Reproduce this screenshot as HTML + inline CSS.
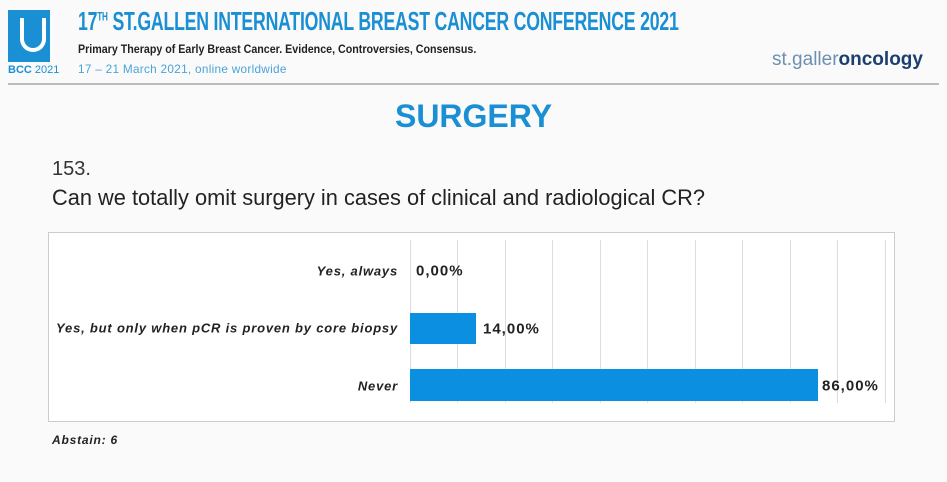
<!DOCTYPE html>
<html><head><meta charset="utf-8"><style>
body{margin:0;width:947px;height:482px;background:#fafafa;position:relative;overflow:hidden;font-family:"Liberation Sans",sans-serif}
.a{position:absolute;white-space:nowrap}
.lab{position:absolute;right:549px;font-weight:bold;font-style:italic;font-size:13px;letter-spacing:0.8px;color:#222;transform:translateY(-50%)}
.val{position:absolute;font-weight:bold;font-size:15px;letter-spacing:1px;color:#222;transform:translateY(-50%)}
.g{position:absolute;top:240px;height:163px;width:1px;background:#ddd}
</style></head><body>
<div class="a" style="left:8px;top:10px;width:42px;height:52px;background:#1a8fd3"></div>
<div class="a" style="left:20px;top:18px;width:18px;height:30px;border:4px solid #fff;border-top:none;border-radius:0 0 14px 14px"></div>
<div class="a" style="left:8px;top:64px;font-size:11px;color:#1a8fd3"><b>BCC</b> 2021</div>
<div class="a" style="left:78px;top:6px;font-size:26px;font-weight:bold;color:#1a8fd3;transform:scaleX(0.68);transform-origin:left;letter-spacing:-0.3px">17<sup style="font-size:12px">TH</sup> ST.GALLEN INTERNATIONAL BREAST CANCER CONFERENCE 2021</div>
<div class="a" style="left:78px;top:42px;font-size:12px;font-weight:bold;color:#222;transform:scaleX(0.89);transform-origin:left">Primary Therapy of Early Breast Cancer. Evidence, Controversies, Consensus.</div>
<div class="a" style="left:78px;top:62px;font-size:12px;color:#4aa3d8;transform:scaleX(0.98);transform-origin:left;letter-spacing:0.3px">17 – 21 March 2021, online worldwide</div>
<div class="a" style="left:772px;top:49px;font-size:19px;color:#6d8fb0">st.galler<b style="color:#1c3f6e">oncology</b></div>
<div class="a" style="left:8px;top:83px;width:931px;height:2px;background:#bbb"></div>
<div class="a" style="left:0;width:947px;top:98px;text-align:center;font-size:32px;font-weight:bold;color:#1a8fd3">SURGERY</div>
<div class="a" style="left:52px;top:158px;font-size:20px;color:#333">153.</div>
<div class="a" style="left:52px;top:185px;font-size:21.8px;color:#222">Can we totally omit surgery in cases of clinical and radiological CR?</div>
<div class="a" style="left:48px;top:232px;width:845px;height:188px;border:1px solid #ccc;background:#fff"></div>
<div class="g" style="left:410px"></div><div class="g" style="left:457px"></div><div class="g" style="left:505px"></div><div class="g" style="left:552px"></div><div class="g" style="left:600px"></div><div class="g" style="left:647px"></div><div class="g" style="left:695px"></div><div class="g" style="left:742px"></div><div class="g" style="left:790px"></div><div class="g" style="left:837px"></div><div class="g" style="left:885px"></div>
<div class="lab" style="top:271px">Yes, always</div>
<div class="lab" style="top:328px">Yes, but only when pCR is proven by core biopsy</div>
<div class="lab" style="top:386px">Never</div>
<div class="a" style="left:410px;top:313px;width:66px;height:31px;background:#0b8fe0"></div>
<div class="a" style="left:410px;top:369px;width:408px;height:32px;background:#0b8fe0"></div>
<div class="val" style="left:416px;top:271px">0,00%</div>
<div class="val" style="left:483px;top:329px">14,00%</div>
<div class="val" style="left:822px;top:386px">86,00%</div>
<div class="a" style="left:52px;top:433px;font-size:12px;letter-spacing:0.8px;font-weight:bold;font-style:italic;color:#222">Abstain: 6</div>
</body></html>
